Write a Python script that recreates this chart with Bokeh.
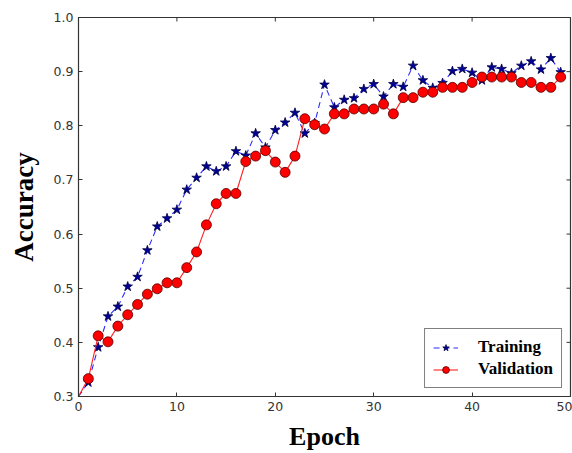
from bokeh.plotting import figure
from bokeh.models import Range1d, Legend, LegendItem, FixedTicker, PrintfTickFormatter
from bokeh.embed import file_html
from bokeh.resources import INLINE
import math

epochs = list(range(0, 50))
training = [0.300, 0.326, 0.391, 0.448, 0.466, 0.503, 0.521, 0.570, 0.614, 0.629,
            0.645, 0.682, 0.704, 0.725, 0.716, 0.725, 0.753, 0.745, 0.786, 0.760,
            0.792, 0.806, 0.824, 0.786, 0.805, 0.876, 0.834, 0.848, 0.851, 0.868,
            0.877, 0.854, 0.877, 0.872, 0.911, 0.884, 0.870, 0.879, 0.901, 0.905,
            0.898, 0.884, 0.908, 0.905, 0.897, 0.911, 0.919, 0.904, 0.925, 0.899]
validation = [0.300, 0.333, 0.412, 0.401, 0.430, 0.451, 0.470, 0.489, 0.499, 0.510,
              0.510, 0.538, 0.567, 0.617, 0.656, 0.675, 0.675, 0.734, 0.744, 0.754,
              0.733, 0.714, 0.744, 0.813, 0.802, 0.794, 0.822, 0.822, 0.831, 0.831,
              0.831, 0.840, 0.822, 0.852, 0.852, 0.862, 0.862, 0.871, 0.871, 0.871,
              0.880, 0.890, 0.890, 0.890, 0.890, 0.880, 0.880, 0.871, 0.871, 0.890]
x_ticks = [0, 10, 20, 30, 40, 50]
y_ticks = [0.3, 0.4, 0.5, 0.6, 0.7, 0.8, 0.9, 1.0]
x_min, x_max = 0, 50
y_min, y_max = 0.3, 1.0

AX = "#333333"

p = figure(width=572, height=453, output_backend="svg", toolbar_location=None,
           x_range=Range1d(x_min, x_max), y_range=Range1d(y_min, y_max),
           min_border_left=78, min_border_top=17, min_border_right=2, min_border_bottom=0)
p.grid.visible = False
p.outline_line_color = AX
p.outline_line_width = 1.2
p.background_fill_color = "white"
p.border_fill_color = "white"

for ax in (p.xaxis[0], p.yaxis[0]):
    ax.major_tick_in = 4
    ax.major_tick_out = 0
    ax.minor_tick_line_color = None
    ax.axis_line_color = AX
    ax.major_tick_line_color = AX
    ax.major_label_text_font = "DejaVu Sans"
    ax.major_label_text_font_size = "12.5px"
    ax.major_label_text_color = "#333333"
    ax.major_label_standoff = 5
    ax.axis_label_text_font = "Liberation Serif"
    ax.axis_label_text_font_style = "bold"
    ax.axis_label_text_color = "black"

p.xaxis[0].ticker = FixedTicker(ticks=x_ticks)
p.yaxis[0].ticker = FixedTicker(ticks=y_ticks)
p.yaxis[0].formatter = PrintfTickFormatter(format="%.1f")
p.xaxis[0].axis_label = "Epoch"
p.yaxis[0].axis_label = "Accuracy"
p.xaxis[0].axis_label_text_font_size = "26px"
p.yaxis[0].axis_label_text_font_size = "27px"
p.xaxis[0].axis_label_standoff = 8
p.yaxis[0].axis_label_standoff = 12

# inward tick marks on the top and right edges (half of each dash is clipped by the frame)
p.scatter(x_ticks, [y_max] * len(x_ticks), marker="dash", size=8, angle=math.pi / 2,
          line_color=AX, line_width=1)
p.scatter([x_max] * len(y_ticks), y_ticks, marker="dash", size=8,
          line_color=AX, line_width=1)

tl = p.line(epochs, training, line_color="#2a2aff", line_width=1.1, line_dash="6 4")
ts = p.scatter(epochs[1:], training[1:], marker="star", size=10,
               fill_color="#000099", line_color="#000044", line_width=0.8)
vl = p.line(epochs, validation, line_color="#ff2020", line_width=1.1)
vs = p.scatter(epochs[1:], validation[1:], marker="circle", size=10,
               fill_color="#ff0000", line_color="#550000", line_width=0.8)

legend = Legend(items=[LegendItem(label="Training", renderers=[tl, ts]),
                       LegendItem(label="Validation", renderers=[vl, vs])],
                location="bottom_right")
legend.margin = 8
legend.padding = 8
legend.spacing = 2
legend.glyph_width = 25
legend.glyph_height = 17
legend.label_height = 17
legend.label_standoff = 20
legend.label_text_font = "Liberation Serif"
legend.label_text_font_style = "bold"
legend.label_text_font_size = "17px"
legend.label_text_color = "black"
legend.border_line_color = "black"
legend.border_line_width = 1
legend.background_fill_alpha = 1
p.add_layout(legend)

open("out.html", "w").write(file_html(p, INLINE))
